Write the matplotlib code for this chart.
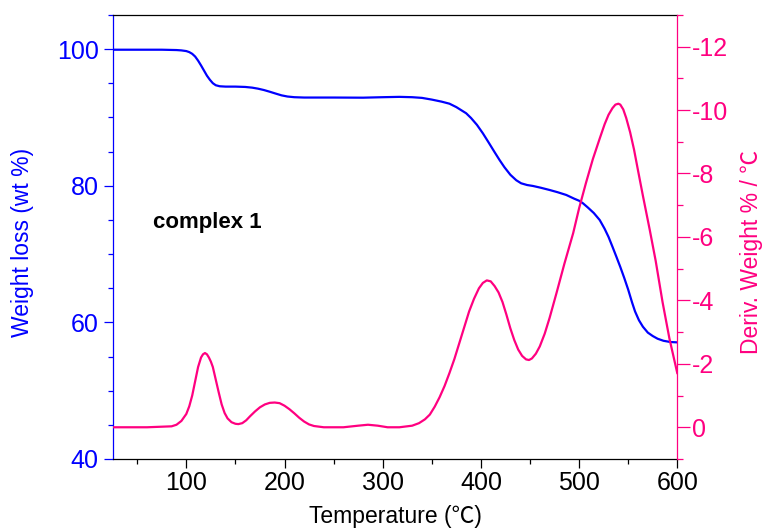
import matplotlib
matplotlib.use("Agg")
import matplotlib.pyplot as plt
from matplotlib.ticker import MultipleLocator

plt.rcParams['font.family'] = ['Liberation Sans', 'Noto Sans CJK SC', 'DejaVu Sans']
plt.rcParams['axes.unicode_minus'] = False

# TGA: temperature (°C) vs remaining weight (wt %)
tga_temp = [25, 50, 75, 90, 95, 100, 103, 106, 109, 112, 115, 118, 121, 124,
            127, 130, 134, 140, 150, 160, 167, 173, 179, 185, 191, 197, 203,
            210, 220, 250, 280, 300, 317, 330, 340, 350, 360, 368, 375, 380,
            385, 390, 396, 402, 408, 414, 419, 424, 430, 436, 441, 447, 453,
            461, 470, 478, 487, 495, 500, 504, 509, 515, 521, 526, 530, 534,
            538, 542, 546, 550, 554, 557, 561, 565, 570, 575, 580, 586, 593,
            600]
tga_weight = [99.9, 99.9, 99.9, 99.85, 99.8, 99.7, 99.55, 99.3, 98.9, 98.3,
              97.6, 96.85, 96.1, 95.5, 95.0, 94.7, 94.55, 94.5, 94.5, 94.45,
              94.35, 94.2, 94.0, 93.75, 93.48, 93.22, 93.05, 92.95, 92.9, 92.9,
              92.88, 92.95, 93.0, 92.95, 92.85, 92.6, 92.3, 92.0, 91.5, 91.05,
              90.6, 89.9, 88.9, 87.67, 86.3, 84.9, 83.76, 82.7, 81.6, 80.8,
              80.35, 80.1, 79.96, 79.7, 79.37, 79.05, 78.64, 78.1, 77.8, 77.42,
              76.8, 76.0, 74.98, 73.7, 72.5, 71.07, 69.6, 68.1, 66.5, 64.8,
              62.9, 61.6, 60.3, 59.36, 58.5, 58.0, 57.6, 57.3, 57.12, 57.07]

# DTG: temperature (°C) vs derivative weight (% / °C)
dtg_temp = [25, 60, 85, 90, 95, 100, 103, 106, 109, 112, 115, 117, 119, 121,
            123, 125, 127, 130, 133, 136, 139, 142, 146, 150, 153, 157, 161,
            165, 170, 175, 180, 185, 190, 195, 200, 205, 210, 215, 220, 225,
            230, 240, 260, 275, 285, 295, 305, 317, 330, 337, 343, 348, 353,
            358, 363, 368, 373, 378, 383, 388, 393, 398, 402, 406, 410, 414,
            418, 422, 426, 430, 434, 438, 442, 446, 449, 452, 456, 460, 465,
            470, 477, 485, 494, 500, 507, 514, 521, 526, 530, 534, 537, 540,
            542, 545, 548, 552, 556, 560, 565, 572, 578, 585, 592, 600]
dtg_value = [0.0, 0.0, -0.03, -0.08, -0.2, -0.42, -0.66, -1.0, -1.45, -1.9,
             -2.2, -2.3, -2.34, -2.3, -2.2, -2.07, -1.9, -1.5, -1.1, -0.72,
             -0.45, -0.28, -0.16, -0.11, -0.1, -0.13, -0.22, -0.35, -0.5,
             -0.63, -0.72, -0.77, -0.78, -0.76, -0.68, -0.57, -0.44, -0.3,
             -0.18, -0.09, -0.04, 0.0, 0.0, -0.05, -0.08, -0.05, 0.0, 0.0,
             -0.05, -0.13, -0.25, -0.4, -0.65, -0.95, -1.3, -1.71, -2.15,
             -2.65, -3.15, -3.65, -4.05, -4.38, -4.55, -4.63, -4.6, -4.45,
             -4.25, -3.95, -3.55, -3.12, -2.75, -2.45, -2.25, -2.14, -2.12,
             -2.17, -2.32, -2.55, -2.95, -3.45, -4.23, -5.15, -6.12, -6.9,
             -7.7, -8.45, -9.1, -9.55, -9.85, -10.06, -10.17, -10.2, -10.17,
             -10.02, -9.75, -9.3, -8.75, -8.1, -7.3, -6.22, -5.25, -3.95,
             -2.8, -1.71]

left_ticks = [40, 60, 80, 100]
right_ticks = [-12, -10, -8, -6, -4, -2, 0]
x_ticks = [100, 200, 300, 400, 500, 600]

BLUE = '#0000FF'
PINK = '#FF0080'

fig = plt.figure(figsize=(7.67, 5.31), dpi=100)
ax = fig.add_axes([0.1469, 0.1356, 0.7361, 0.8364])
ax2 = ax.twinx()

ax.plot(tga_temp, tga_weight, color=BLUE, lw=1.6, zorder=3,
        solid_joinstyle='round')
ax2.plot(dtg_temp, dtg_value, color=PINK, lw=1.6, zorder=3,
         solid_joinstyle='round')

ax.set_xlim(25, 600)
ax.set_ylim(40, 105)
ax2.set_ylim(1, -13)

ax.set_xticks(x_ticks)
ax.xaxis.set_minor_locator(MultipleLocator(50))
ax.set_yticks(left_ticks)
ax.yaxis.set_minor_locator(MultipleLocator(5))
ax2.set_yticks(right_ticks)
ax2.set_yticklabels([str(t) for t in right_ticks])
ax2.yaxis.set_minor_locator(MultipleLocator(1))

for a in (ax, ax2):
    for s in a.spines.values():
        s.set_linewidth(0.9)
ax.spines['right'].set_visible(False)
ax2.spines['left'].set_visible(False)
ax2.spines['top'].set_visible(False)
ax2.spines['bottom'].set_visible(False)
ax.spines['left'].set_color(BLUE)
ax2.spines['right'].set_color(PINK)
ax.spines['top'].set_color('black')
ax.spines['bottom'].set_color('black')

ax.tick_params(axis='x', which='major', direction='out', length=6.5, width=0.9,
               labelsize=18, pad=2.5, colors='black')
ax.tick_params(axis='x', which='minor', direction='out', length=3.5, width=0.9,
               colors='black')
ax.tick_params(axis='y', which='major', direction='out', length=6.5, width=0.9,
               labelsize=18, pad=3.5, colors=BLUE)
ax.tick_params(axis='y', which='minor', direction='out', length=3.5, width=0.9,
               colors=BLUE)
ax2.tick_params(axis='y', which='major', direction='out', length=9, width=0.9,
                labelsize=18, pad=1.5, colors=PINK)
ax2.tick_params(axis='y', which='minor', direction='out', length=4.3, width=0.9,
                colors=PINK)

ax.set_xlabel('Temperature (℃)', fontsize=16.5, color='black', va='center')
ax.xaxis.set_label_coords(0.5, -0.1306)
ax.set_ylabel('Weight loss (wt %)', fontsize=16.5, color=BLUE, va='center')
ax.yaxis.set_label_coords(-0.159, 0.4875)
ax2.set_ylabel('Deriv. Weight % / ℃', fontsize=16.5, color=PINK, va='center')
ax2.yaxis.set_label_coords(1.1318, 0.467)

ax.text(0.0708, 0.5195, 'complex 1', transform=ax.transAxes, fontsize=16,
        fontweight='bold', color='black', ha='left', va='baseline')

fig.savefig('out.png', dpi=100)
